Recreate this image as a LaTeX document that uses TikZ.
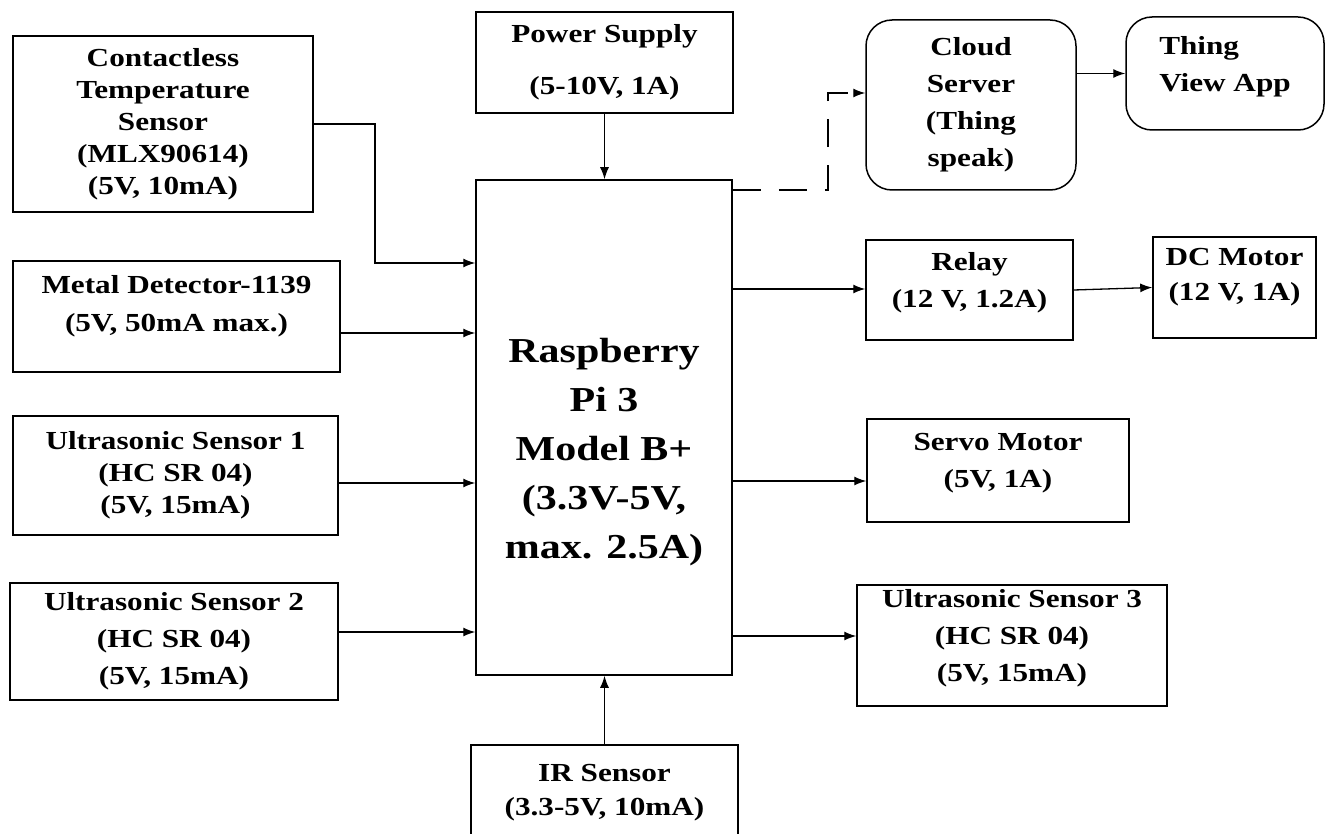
\documentclass[tikz,border=0pt]{standalone}
\usepackage{fontspec}
\setmainfont{Liberation Serif}[FakeStretch=1.2]
\usetikzlibrary{arrows.meta}
\newcommand{\txtup}[1]{\rule[-#1]{0pt}{0pt}}
\newcommand{\txtdown}[1]{\rule{0pt}{#1}}

\tikzset{
	blk/.style={draw, line width=0.75pt, align=center, inner sep=2pt,
		font=\bfseries\fontsize{13}{18.5}\selectfont},
	rblk/.style={blk, rounded corners=13pt},
	con/.style={-{Latex[length=6pt, width=4.5pt]}, line width=0.65pt},
}

\begin{document}
\begin{tikzpicture}[x=0.5pt, y=-0.5pt]
		\useasboundingbox (0,0) rectangle (1326,834);
		\clip (0,0) rectangle (1326,834);

		% inputs
		\node[blk, minimum width=150pt, minimum height=88pt, font=\bfseries\fontsize{13}{16}\selectfont] (temp) at (163,124) {Contactless\\Temperature\\Sensor\\(MLX90614)\\(5V, 10mA)};
		\node[blk, minimum width=163.5pt, minimum height=55.5pt, font=\bfseries\fontsize{13}{19}\selectfont] (metal) at (176.5,316.5) {Metal Detector-1139\\(5V, 50mA max.)\txtup{13pt}};
		\node[blk, minimum width=162.5pt, minimum height=59.5pt, font=\bfseries\fontsize{13}{16}\selectfont] (us1) at (175.5,475.5) {Ultrasonic Sensor 1\\(HC SR 04)\\(5V, 15mA)};
		\node[blk, minimum width=164pt, minimum height=58.5pt] (us2) at (174,641.5) {Ultrasonic Sensor 2\\(HC SR 04)\\(5V, 15mA)};
		\node[blk, minimum width=128.5pt, minimum height=50.5pt, font=\bfseries\fontsize{13}{26}\selectfont] (power) at (604.5,62.5) {Power Supply\\(5-10V, 1A)};
		\node[blk, minimum width=133.5pt, minimum height=47.5pt, font=\bfseries\fontsize{13}{17}\selectfont] (ir) at (604.5,792.5) {IR Sensor\\(3.3-5V, 10mA)};

		\node[blk, minimum width=128pt, minimum height=247.5pt, font=\bfseries\fontsize{17.5}{24.5}\selectfont] (pi) at (604,427.5) {\txtdown{37pt}Raspberry\\Pi 3\\Model B+\\(3.3V-5V,\\max. 2.5A)};

		% outputs
		\node[rblk, minimum width=105pt, minimum height=85pt] (cloud) at (971,105) {Cloud\\Server\\(Thing\\speak)};
		\node[rblk, align=left, minimum width=99pt, minimum height=56.5pt] (thing) at (1225,73.5) {Thing\\View App\txtup{10pt}};
		\node[blk, minimum width=103.5pt, minimum height=50pt] (relay) at (969.5,290) {Relay\\(12 V, 1.2A)\txtup{10pt}};
		\node[blk, minimum width=81.5pt, minimum height=50.5pt, font=\bfseries\fontsize{13}{17.5}\selectfont] (dc) at (1234.5,287.5) {DC Motor\\(12 V, 1A)\txtup{13pt}};
		\node[blk, minimum width=131pt, minimum height=51.5pt] (servo) at (998,470.5) {Servo Motor\\(5V, 1A)\txtup{10pt}};
		\node[blk, minimum width=155pt, minimum height=60.5pt] (us3) at (1012,645.5) {Ultrasonic Sensor 3\\(HC SR 04)\\(5V, 15mA)\txtup{10pt}};

		\coordinate (tbend) at (375,263);
		\coordinate (dbend) at (828,190);
		\coordinate (dtop) at (828,93);

		\draw[con] (temp.east) -| (tbend) -- (tbend -| pi.west);
		\foreach \s/\y in {metal/333, us1/483, us2/632} {
			\draw[con] (\s.east |- 0,\y) -- (pi.west |- 0,\y);
		}
		\foreach \t/\y in {relay/289, servo/481, us3/636} {
			\draw[con] (pi.east |- 0,\y) -- (\t.west |- 0,\y);
		}
		\draw[con] (power.south) -- (power.south |- pi.north);
		\draw[con] (ir.north) -- (ir.north |- pi.south);
		\draw[con, dash pattern=on 14pt off 9pt] (pi.east |- dbend) -- (dbend) -- (dtop) -- (dtop -| cloud.west);
		\draw[con] (thing.west -| cloud.east) -- (thing.west);
		\draw[con] (relay.east) -- (dc.west);
	\end{tikzpicture}
\end{document}
